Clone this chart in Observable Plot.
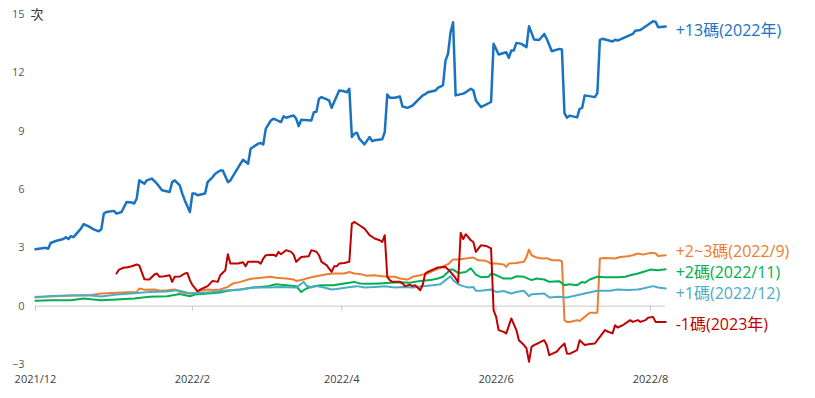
<!DOCTYPE html>
<html><head><meta charset="utf-8">
<script src="https://cdn.jsdelivr.net/npm/d3@7"></script>
<script src="https://cdn.jsdelivr.net/npm/@observablehq/plot@0.6"></script>
<style>body{margin:0;background:#fff}</style>
</head><body><div id="chart"></div>
<script>
// x values are days since startDate
const startDate = "2021-12-01";
const xDomainEnd = "2022-08-01";
const xTickDates = ["2021-12-01","2022-02-01","2022-04-01","2022-06-01","2022-08-01"];
const yTicks = [-3,0,3,6,9,12,15];
const yUnit = "次";

const seriesNames = ["+13碼(2022年)","+2~3碼(2022/9)","+2碼(2022/11)","+1碼(2022/12)","-1碼(2023年)"];
const seriesColors = ["#1a73c2","#ed7d31","#00b050","#4bacc6","#c00000"];

const hike13 = [[0,2.93],[2,2.97],[4,3.0],[5,2.95],[6,3.25],[8,3.35],[11,3.45],[12,3.55],[13,3.45],[14,3.6],[15,3.55],[17,3.85],[18,4.0],[19,4.22],[21,4.1],[23,3.95],[25,3.85],[26,3.95],[27,4.76],[28,4.84],[31,4.9],[32,4.76],[34,4.84],[36,5.36],[38,5.33],[39,5.28],[40,5.54],[41,6.47],[43,6.3],[44,6.47],[46,6.56],[48,6.3],[50,5.96],[53,5.87],[54,6.38],[55,6.47],[57,6.21],[58,5.79],[59,5.44],[61,4.84],[62,5.79],[63,5.79],[64,5.7],[67,5.79],[68,6.38],[70,6.64],[71,6.81],[73,6.98],[74,6.98],[76,6.38],[77,6.47],[81,7.33],[82,7.53],[84,7.33],[85,8.1],[88,8.36],[89,8.39],[90,8.32],[91,9.13],[93,9.55],[94,9.64],[97,9.47],[98,9.76],[99,9.69],[102,9.81],[103,9.64],[104,9.26],[105,9.59],[109,9.55],[110,9.98],[111,10.0],[112,10.67],[113,10.75],[116,10.58],[117,10.2],[118,10.5],[120,11.09],[122,11.05],[123,11.0],[124,11.18],[125,8.7],[126,8.87],[127,8.92],[128,8.6],[130,8.32],[132,8.7],[133,8.49],[134,8.53],[137,8.58],[138,8.95],[139,10.89],[140,10.72],[142,10.72],[144,10.78],[145,10.27],[147,10.2],[149,10.32],[151,10.58],[153,10.84],[154,10.9],[155,11.0],[158,11.09],[159,11.23],[161,11.35],[162,12.63],[163,12.98],[164,14.09],[165,14.6],[166,10.84],[169,10.93],[170,11.0],[172,11.18],[173,11.1],[174,10.58],[176,10.24],[180,10.5],[181,13.49],[183,12.94],[186,13.06],[187,12.77],[188,13.15],[189,13.15],[190,13.54],[192,13.49],[194,13.32],[195,14.4],[197,13.71],[199,13.69],[201,14.0],[202,13.75],[204,13.11],[207,13.23],[208,13.2],[209,9.93],[210,9.69],[211,9.8],[214,9.71],[215,10.15],[216,10.2],[217,10.84],[221,10.75],[222,10.96],[223,13.69],[224,13.75],[228,13.61],[229,13.7],[230,13.66],[236,14.0],[237,14.17],[239,14.2],[244,14.65],[245,14.63],[246,14.35],[249,14.38]];

const hike2to3 = [[0,0.48],[6,0.5],[14,0.55],[22,0.57],[26,0.65],[30,0.68],[34,0.7],[40,0.73],[41,0.91],[43,0.85],[47,0.86],[49,0.79],[52,0.82],[55,0.86],[57,0.73],[60,0.65],[63,0.68],[65,0.79],[68,0.86],[70,0.83],[73,0.86],[76,0.99],[78,1.17],[81,1.25],[84,1.37],[86,1.42],[90,1.47],[93,1.51],[95,1.46],[99,1.42],[102,1.37],[103,1.3],[105,1.34],[107,1.42],[110,1.51],[113,1.59],[115,1.64],[118,1.68],[122,1.68],[124,1.76],[126,1.68],[128,1.66],[131,1.56],[134,1.59],[136,1.55],[139,1.51],[142,1.51],[144,1.42],[147,1.37],[149,1.51],[152,1.59],[155,1.68],[157,1.81],[160,1.99],[163,2.16],[165,2.4],[167,2.4],[170,2.45],[173,2.5],[175,2.36],[178,2.33],[180,2.19],[182,2.19],[185,2.14],[186,2.02],[187,2.19],[190,2.22],[193,2.28],[194,2.53],[195,2.91],[196,2.62],[198,2.5],[200,2.45],[202,2.47],[204,2.36],[207,2.36],[208,2.3],[209,-0.72],[210,-0.81],[211,-0.81],[214,-0.72],[215,-0.76],[217,-0.55],[219,-0.34],[221,-0.34],[222,-0.34],[223,2.45],[225,2.48],[229,2.45],[231,2.53],[234,2.57],[236,2.62],[238,2.71],[240,2.65],[243,2.74],[245,2.72],[246,2.58],[249,2.62]];

const hike2 = [[0,0.28],[6,0.3],[14,0.3],[19,0.4],[22,0.35],[26,0.31],[32,0.34],[39,0.39],[45,0.48],[52,0.51],[57,0.62],[61,0.51],[63,0.6],[68,0.65],[73,0.7],[76,0.79],[81,0.86],[86,0.96],[92,1.03],[95,1.13],[99,1.08],[103,1.03],[105,0.73],[107,0.91],[110,1.03],[113,1.08],[118,1.08],[120,1.13],[124,1.2],[126,1.25],[128,1.17],[132,1.15],[136,1.17],[140,1.2],[144,1.23],[148,1.2],[152,1.3],[156,1.34],[159,1.42],[161,1.51],[163,1.76],[164,1.88],[165,1.88],[167,1.71],[168,1.72],[170,1.76],[172,1.95],[174,1.62],[176,1.49],[179,1.51],[180,1.68],[182,1.6],[185,1.42],[188,1.42],[190,1.54],[193,1.51],[196,1.34],[198,1.42],[201,1.37],[203,1.25],[207,1.28],[209,1.08],[211,1.13],[214,1.08],[216,1.25],[217,1.2],[219,1.37],[222,1.51],[225,1.49],[230,1.49],[233,1.51],[235,1.59],[238,1.68],[240,1.76],[243,1.88],[246,1.85],[249,1.9]];

const hike1 = [[0,0.45],[6,0.52],[14,0.55],[22,0.55],[26,0.5],[32,0.6],[39,0.67],[45,0.73],[52,0.76],[56,0.82],[59,0.73],[61,0.65],[65,0.68],[70,0.73],[76,0.82],[81,0.86],[86,0.96],[92,0.96],[97,0.99],[102,0.96],[103,0.96],[106,1.25],[107,1.06],[109,0.96],[111,1.03],[114,0.96],[117,0.86],[119,0.88],[123,0.96],[127,1.03],[130,0.96],[134,0.99],[138,1.03],[142,0.96],[145,0.99],[149,0.96],[153,1.03],[157,1.08],[160,1.13],[162,1.34],[164,1.54],[165,1.34],[167,1.13],[169,1.03],[171,0.96],[173,0.99],[174,0.79],[176,0.79],[180,0.86],[182,0.73],[185,0.78],[188,0.65],[190,0.73],[193,0.79],[195,0.51],[196,0.61],[201,0.65],[203,0.45],[207,0.48],[210,0.45],[214,0.56],[217,0.65],[222,0.79],[227,0.79],[230,0.86],[234,0.83],[238,0.86],[240,0.91],[244,1.03],[246,0.96],[249,0.91]];

const cut1 = [[32,1.68],[33,1.88],[35,1.99],[36,1.99],[38,2.05],[40,2.14],[41,2.1],[43,1.39],[45,1.37],[47,1.63],[48,1.68],[49,1.51],[51,1.54],[53,1.59],[54,1.25],[55,1.51],[57,1.52],[59,1.68],[60,1.71],[61,1.34],[62,1.08],[64,0.77],[66,0.91],[68,1.03],[70,1.3],[72,1.25],[73,1.59],[75,1.85],[76,2.67],[77,2.19],[80,2.19],[82,2.26],[83,2.05],[84,2.28],[88,2.28],[89,2.19],[90,2.45],[91,2.62],[94,2.65],[95,2.57],[96,2.79],[97,2.67],[99,2.88],[101,2.79],[102,2.65],[103,2.28],[105,2.53],[108,2.57],[109,2.88],[111,2.8],[112,2.62],[113,2.28],[115,2.11],[117,1.76],[118,2.05],[119,2.05],[120,2.19],[122,2.22],[124,2.28],[125,4.25],[126,4.33],[128,4.16],[130,3.99],[132,3.65],[134,3.48],[136,3.39],[137,3.3],[138,3.65],[139,1.51],[140,1.34],[141,1.25],[144,1.25],[145,1.17],[146,1.03],[148,1.1],[149,1.03],[150,1.08],[152,0.82],[153,1.1],[154,1.68],[155,1.76],[157,1.88],[159,1.99],[162,2.02],[164,1.76],[166,1.44],[167,1.23],[168,3.77],[169,3.45],[170,3.7],[172,3.39],[173,3.3],[174,2.79],[176,3.13],[178,3.1],[180,2.97],[181,-0.2],[182,-0.55],[183,-1.23],[185,-1.32],[186,-1.4],[188,-0.63],[190,-1.23],[191,-1.75],[193,-2.0],[194,-2.17],[195,-2.86],[196,-2.09],[197,-2.0],[199,-1.88],[201,-1.75],[202,-2.0],[203,-2.52],[206,-2.34],[207,-2.17],[209,-1.92],[210,-2.43],[211,-2.45],[214,-2.26],[215,-1.75],[217,-2.0],[219,-1.95],[221,-1.92],[223,-1.58],[225,-1.23],[226,-1.3],[228,-1.4],[229,-0.98],[230,-1.1],[232,-0.98],[234,-0.81],[235,-0.72],[236,-0.81],[238,-0.72],[239,-0.81],[241,-0.72],[242,-0.6],[244,-0.55],[245,-0.81],[249,-0.81]];

const seriesValues = [hike13, hike2to3, hike2, hike1, cut1];
const strokeWidths = [2.5, 2, 2, 2, 2];
const labelDy = [4, -3, 4, 5, 3];

const t0 = new Date(startDate + "T00:00:00Z");
const dayToDate = d => new Date(t0.getTime() + d * 864e5);
const tickDates = xTickDates.map(s => new Date(s + "T00:00:00Z"));

const seriesData = seriesValues.map((arr, i) =>
  arr.map(([d, v]) => ({date: dayToDate(d), value: v, name: seriesNames[i]})));

const font = "'Open Sans', 'Noto Sans CJK TC', sans-serif";

const marks = [];
// zero baseline with small tick marks below it
marks.push(Plot.ruleY([0], {x1: dayToDate(0), x2: dayToDate(249), stroke: "#c8c8c8", strokeWidth: 1}));
marks.push(Plot.ruleX(tickDates, {x: d => d, y1: 0, y2: -0.27, stroke: "#c8c8c8"}));
marks.push(Plot.axisY({ticks: yTicks, tickSize: 0, tickPadding: 4, fontSize: 11, fill: "#595959", label: null}));
marks.push(Plot.axisX({ticks: tickDates, tickSize: 0, tickPadding: 11, label: null,
  tickFormat: d => `${d.getUTCFullYear()}/${d.getUTCMonth() + 1}`, fontSize: 11, fill: "#404040"}));
marks.push(Plot.text([yUnit], {x: dayToDate(0), y: yTicks[yTicks.length - 1], dx: -5, textAnchor: "start", fontSize: 13, fill: "#333", fontFamily: "'Noto Sans CJK TC', sans-serif"}));

seriesData.forEach((rows, i) => {
  marks.push(Plot.line(rows, {x: "date", y: "value", stroke: seriesColors[i], strokeWidth: strokeWidths[i], strokeLinejoin: "round"}));
});
seriesData.forEach((rows, i) => {
  const last = rows[rows.length - 1];
  marks.push(Plot.text([last], {x: "date", y: "value", text: "name", dx: 10, dy: labelDy[i], textAnchor: "start", fill: seriesColors[i], fontSize: 16}));
});

const chart = Plot.plot({
  width: 815,
  height: 398,
  marginLeft: 28,
  marginRight: 0,
  marginTop: 14,
  marginBottom: 34,
  style: {fontFamily: font, background: "#fff", overflow: "visible"},
  x: {type: "utc", domain: [dayToDate(0), new Date(xDomainEnd + "T00:00:00Z")], range: [35, 650]},
  y: {type: "linear", domain: [-3, 15], range: [364, 14]},
  marks
});
document.getElementById("chart").appendChild(chart);
</script>
</body></html>
